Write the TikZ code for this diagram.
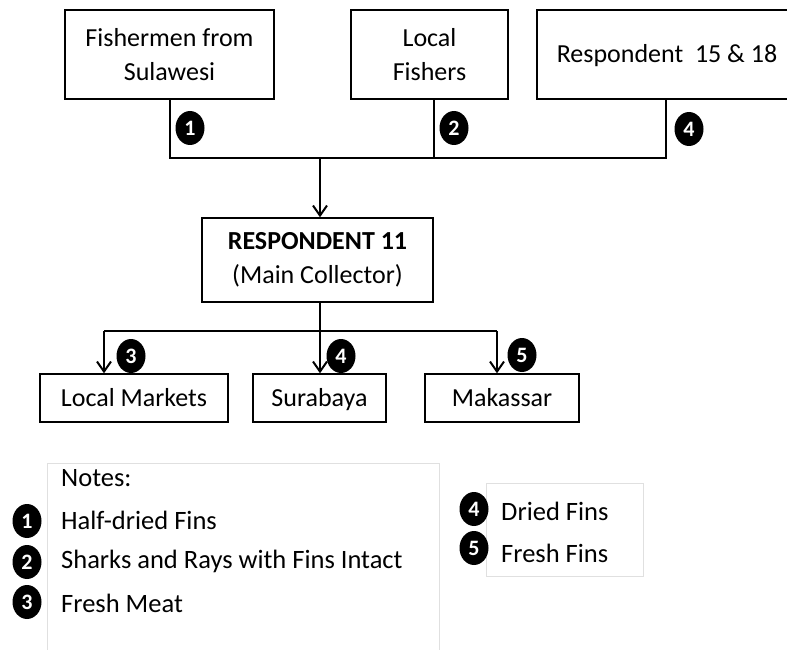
\documentclass[tikz,border=0pt]{standalone}
\usepackage{fontspec}
\setmainfont{Carlito}
\usetikzlibrary{arrows.meta,shapes.geometric}
\begin{document}
\begin{tikzpicture}[x=1pt,y=-1pt,
  box/.style={draw,line width=1.4pt,inner sep=0pt,align=center,font=\fontsize{26}{34}\selectfont},
  oneline/.style={text height=19pt,text depth=2pt},
  badge/.style={ellipse,fill=black,text=white,inner sep=0pt,minimum width=29pt,minimum height=34pt,font=\fontsize{22}{22}\selectfont\bfseries},
  link/.style={line width=2pt},
  flow/.style={line width=2pt,-{Straight Barb[length=10pt,width=14pt,line width=2pt]}},
  note/.style={anchor=west,inner sep=0pt,font=\fontsize{26.5}{32}\selectfont},
  notebox/.style={draw=black!12,line width=1.2pt}]
\useasboundingbox (0,0) rectangle (787,650);

% suppliers
\node[box,minimum width=209pt,minimum height=89pt] (sul) at (169.5,54.5) {Fishermen from\\Sulawesi};
\node[box,minimum width=157pt,minimum height=89pt] (loc) at (429.5,54.5) {Local\\Fishers};
\node[box,oneline,minimum width=260pt,minimum height=89pt] (r15) at (667,54.5) {Respondent\ \ 15 \& 18};

% collector and destinations
\node[box,minimum width=231pt,minimum height=84pt] (r11) at (317.5,260) {\textbf{RESPONDENT 11}\\(Main Collector)};
\node[box,oneline,minimum width=188pt,minimum height=48pt] (mkt) at (134,398) {Local Markets};
\node[box,oneline,minimum width=133pt,minimum height=48pt] (sby) at (319.5,398) {Surabaya};
\node[box,oneline,minimum width=154pt,minimum height=48pt] (mak) at (502,398) {Makassar};

% junction points
\coordinate (j1) at (170,158);
\coordinate (j2) at (434,158);
\coordinate (j4) at (666,158);
\coordinate (jin) at (320,158);
\coordinate (jout) at (320,331);
\coordinate (d3) at (104,331);
\coordinate (d5) at (497,331);

% inbound links
\draw[link] (sul.south -| j1) -- (j1) -- (j4) -- (r15.south -| j4);
\draw[link] (loc.south -| j2) -- (j2);
\draw[flow] (jin) -- (r11.north -| jin);

% outbound links
\draw[link] (r11.south -| jout) -- (jout);
\draw[link] (d3) -- (d5);
\draw[flow] (d3) -- (mkt.north -| d3);
\draw[flow] (jout) -- (sby.north -| jout);
\draw[flow] (d5) -- (mak.north -| d5);

% product badges on links
\node[badge] (b1) at (190,128) {1};
\node[badge] (b2) at (454,128) {2};
\node[badge] (b4) at (689,129) {4};
\node[badge] (b3) at (131,356) {3};
\node[badge] (b4b) at (341,356) {4};
\node[badge] (b5) at (522,355) {5};

% legend
\node[notebox,minimum width=392pt,minimum height=200pt,inner sep=0pt,anchor=north west] (nb1) at (47,463) {};
\node[notebox,minimum width=157pt,minimum height=93pt,inner sep=0pt,anchor=north west] (nb2) at (486,483) {};
\node[note] (tn) at (61,478) {Notes:};
\node[badge] (l1) at (27,521) {1};
\node[note] (t1) at (61,520) {Half-dried Fins};
\node[badge] (l2) at (27,562) {2};
\node[note] (t2) at (61,561) {Sharks and Rays with Fins Intact};
\node[badge] (l3) at (27,602) {3};
\node[note] (t3) at (61,603) {Fresh Meat};
\node[badge] (l4) at (474,509) {4};
\node[note] (t4) at (501,511) {Dried Fins};
\node[badge] (l5) at (474,548) {5};
\node[note] (t5) at (501,553) {Fresh Fins};
\end{tikzpicture}
\end{document}
